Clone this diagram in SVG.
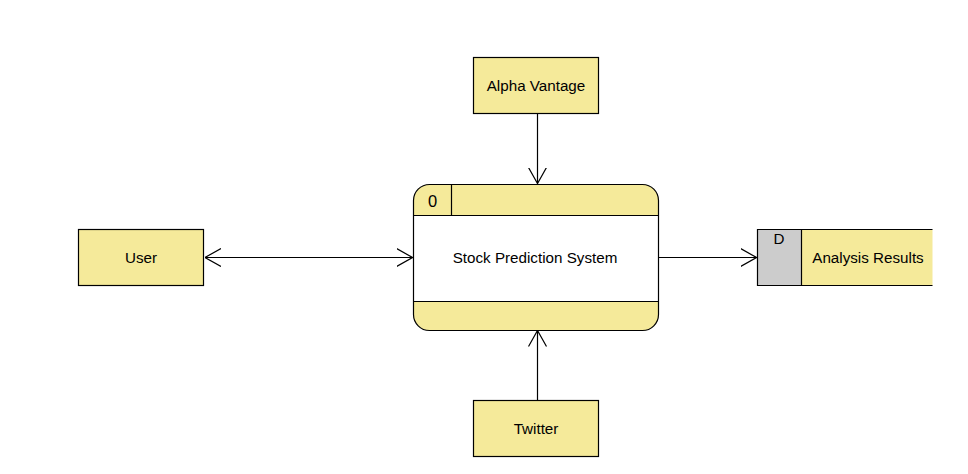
<svg xmlns="http://www.w3.org/2000/svg" width="968" height="474" viewBox="0 0 968 474">
<style>
.box{fill:#F5EA9A;stroke:#000;stroke-width:1.2}
.t{font-family:"Liberation Sans",Arial,sans-serif;font-size:15.2px;fill:#000}
.c{text-anchor:middle}
.ln{stroke:#000;stroke-width:1.2;fill:none}
</style>
<defs>
<marker id="ah" viewBox="0 0 16 20" refX="16" refY="10" markerWidth="16" markerHeight="20" markerUnits="userSpaceOnUse" orient="auto-start-reverse">
<path d="M0,1 L16,10 L0,19" fill="none" stroke="#000" stroke-width="1.2"/>
</marker>
</defs>
<rect width="968" height="474" fill="#fff"/>
<g id="connectors">
<line class="ln" x1="537.5" y1="114" x2="537.5" y2="183.5" marker-end="url(#ah)"/>
<line class="ln" x1="537.5" y1="400" x2="537.5" y2="330.5" marker-end="url(#ah)"/>
<line class="ln" x1="205" y1="257.5" x2="412.5" y2="257.5" marker-start="url(#ah)" marker-end="url(#ah)"/>
<line class="ln" x1="659" y1="257.5" x2="756.5" y2="257.5" marker-end="url(#ah)"/>
</g>
<g id="alpha">
<rect class="box" x="473.5" y="57.5" width="125" height="56"/>
<text class="t c" x="536" y="90.5">Alpha Vantage</text>
</g>
<g id="twitter">
<rect class="box" x="473.5" y="400.5" width="125" height="56"/>
<text class="t c" x="536" y="433.5">Twitter</text>
</g>
<g id="user">
<rect class="box" x="78.5" y="229.5" width="125" height="56"/>
<text class="t c" x="141" y="262.5">User</text>
</g>
<g id="process">
<rect x="413.5" y="184.5" width="245" height="146" rx="16" ry="16" fill="#F5EA9A"/>
<rect x="413.5" y="215.5" width="245" height="86" fill="#fff"/>
<rect x="413.5" y="184.5" width="245" height="146" rx="16" ry="16" fill="none" stroke="#000" stroke-width="1.2"/>
<line class="ln" x1="413.5" y1="215.5" x2="658.5" y2="215.5"/>
<line class="ln" x1="413.5" y1="301.5" x2="658.5" y2="301.5"/>
<line class="ln" x1="451.5" y1="184.5" x2="451.5" y2="215.5"/>
<text class="t c" x="432.5" y="207" style="font-size:16.5px">0</text>
<text class="t c" x="535" y="263">Stock Prediction System</text>
</g>
<g id="datastore">
<rect x="757.5" y="229.5" width="44" height="56" fill="#CCCCCC"/>
<rect x="801.5" y="229.5" width="131" height="56" fill="#F5EA9A"/>
<path class="ln" d="M932.5,229.5 H757.5 V285.5 H932.5"/>
<line class="ln" x1="801.5" y1="229.5" x2="801.5" y2="285.5"/>
<text class="t c" x="779" y="244">D</text>
<text class="t c" x="868" y="262.5">Analysis Results</text>
</g>
</svg>
